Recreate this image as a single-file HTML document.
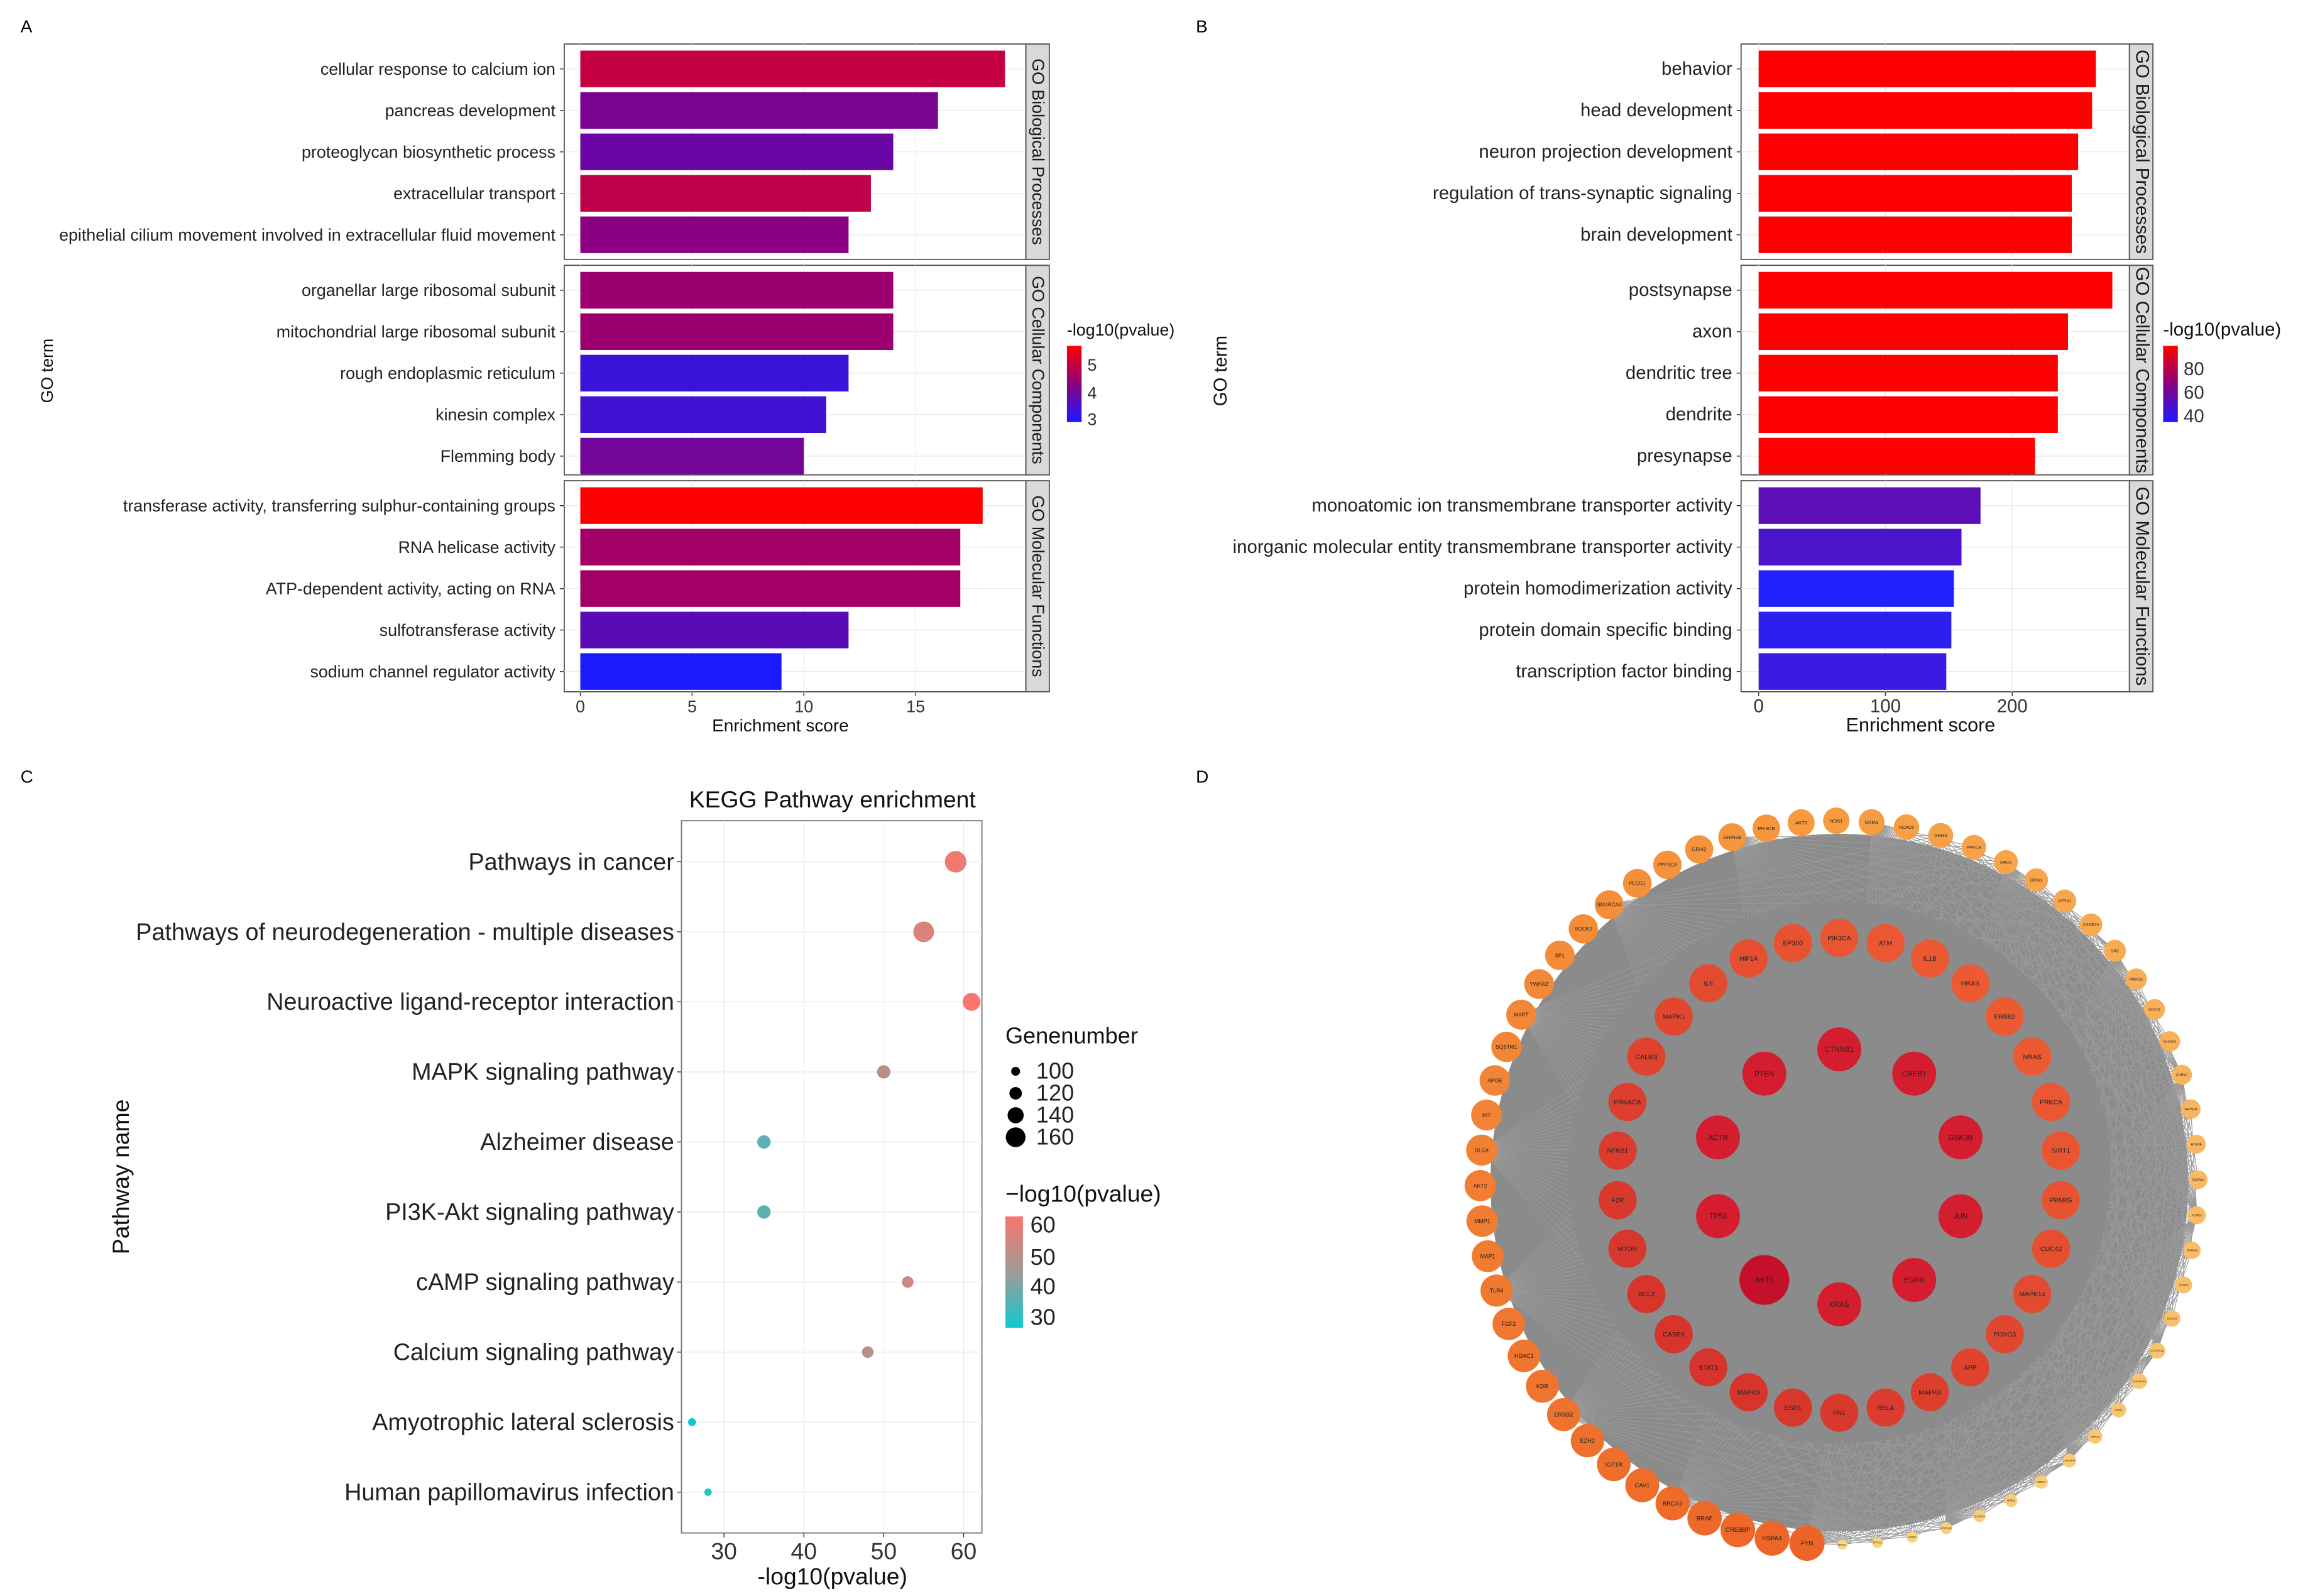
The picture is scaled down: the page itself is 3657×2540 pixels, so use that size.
<!DOCTYPE html>
<html><head><meta charset="utf-8"><style>
html,body{margin:0;padding:0;background:#fff;}
svg{display:block;font-family:"Liberation Sans",sans-serif;}
</style></head><body>
<svg id="fig" width="3657" height="2540" viewBox="0 0 1568 1089" xmlns="http://www.w3.org/2000/svg">
<defs>
<linearGradient id="gA" x1="0" y1="0" x2="0" y2="1"><stop offset="0" stop-color="#ff0000"/><stop offset="0.5" stop-color="#8a0080"/><stop offset="1" stop-color="#1a1aff"/></linearGradient>
<linearGradient id="gC" x1="0" y1="0" x2="0" y2="1"><stop offset="0" stop-color="#f8766d"/><stop offset="0.5" stop-color="#a09a98"/><stop offset="1" stop-color="#10c8d0"/></linearGradient>
</defs>
<g id="root"></g>
</svg>
<script>
// Panel A data
const aTerms=[["cellular response to calcium ion","pancreas development","proteoglycan biosynthetic process","extracellular transport","epithelial cilium movement involved in extracellular fluid movement"],["organellar large ribosomal subunit","mitochondrial large ribosomal subunit","rough endoplasmic reticulum","kinesin complex","Flemming body"],["transferase activity, transferring sulphur-containing groups","RNA helicase activity","ATP-dependent activity, acting on RNA","sulfotransferase activity","sodium channel regulator activity"]];
const aScores=[[19,16,14,13,12],[14,14,12,11,10],[18,17,17,12,9]];
const aPval=[[5.0,4.1,3.9,4.9,4.3],[4.5,4.5,3.3,3.4,4.0],[5.7,4.6,4.6,3.7,2.9]];
const aTicks=[0,5,10,15];
// Panel B data
const bTerms=[["behavior","head development","neuron projection development","regulation of trans-synaptic signaling","brain development"],["postsynapse","axon","dendritic tree","dendrite","presynapse"],["monoatomic ion transmembrane transporter activity","inorganic molecular entity transmembrane transporter activity","protein homodimerization activity","protein domain specific binding","transcription factor binding"]];
const bScores=[[266,263,252,247,247],[279,244,236,236,218],[175,160,154,152,148]];
const bPval=[[90,90,89,89,89],[92,88,88,88,87],[50,45,33,36,40]];
const bTicks=[0,100,200];
const facets=["GO Biological Processes","GO Cellular Components","GO Molecular Functions"];
// Panel C data
const cPaths=["Pathways in cancer","Pathways of neurodegeneration - multiple diseases","Neuroactive ligand-receptor interaction","MAPK signaling pathway","Alzheimer disease","PI3K-Akt signaling pathway","cAMP signaling pathway","Calcium signaling pathway","Amyotrophic lateral sclerosis","Human papillomavirus infection"];
const cLogP=[59,55,61,50,35,35,53,48,26,28];
const cGenes=[170,165,150,125,125,125,115,115,95,92];
const cTicks=[30,40,50,60];
// Panel D data
const dInner=["CTNNB1","CREB1","GSK3B","JUN","EGFR","KRAS","AKT1","TP53","ACTB","PTEN"];
const dMiddle=["PIK3CA","ATM","IL1B","HRAS","ERBB2","NRAS","PRKCA","SIRT1","PPARG","CDC42","MAPK14","FOXO3","APP","MAPK8","RELA","FN1","ESR1","MAPK3","STAT3","CASP3","BCL2","MTOR","F2R","NFKB1","PRKACA","CALM3","MAPK1","IL6","HIF1A","EP300"];
const dOuter=["FYN","HSPA4","CREBBP","BRAF","BRCA1","CAV1","IGF1R","EZH2","ERBB2","KDR","HDAC1","FGF2","TLR4","MAP1","MMP1","AKT2","DLG4","KIT","APOE","SQSTM1","MAPT","YWHAZ","SP1","ROCK2","SMARCA4","PLCG1","PPP2CA","GRIA2","GRIN2B","PIK3CB","AKT3","NOS1","GRIA1","HDAC6","GRM5","PRKCB","DRD2","GRIN1","NTRK2","CAMK2A","SRC","PRKCG","ADCY1","SLC6A4","CHRM1","GRIN2A","HTR2A","GABRA1","ADRB2","OPRM1","SCN5A","KCNH2","CACNA1C","ADORA2A","DRD1","HTR1A","CHRNA7","P2RX7","GRM1","SLC6A3","ADRA2A","CNR1","TRPV1","MAOA"];

const NS="http://www.w3.org/2000/svg";
const root=document.getElementById('root');
function el(tag,attrs,parent,txt){const e=document.createElementNS(NS,tag);for(const k in attrs)e.setAttribute(k,attrs[k]);if(txt!==undefined)e.textContent=txt;(parent||root).appendChild(e);return e;}
function lerp(a,b,t){return a+(b-a)*t;}
function mix(c1,c2,t){return 'rgb('+[0,1,2].map(i=>Math.round(lerp(c1[i],c2[i],t))).join(',')+')';}
function colA(v,lo,hi){let t=(v-lo)/(hi-lo);t=Math.max(0,Math.min(1,t));const blue=[26,26,255],purp=[138,0,128],red=[255,0,0];return t<0.5?mix(blue,purp,t*2):mix(purp,red,(t-0.5)*2);}

[["A",14,22],["B",816,22],["C",14,534],["D",816,534]].forEach(p=>{const t=el('text',{x:p[1],y:p[2],'font-size':12,fill:'#000'},root,p[0]);});

function barPanel(o){
  const g=el('g',{});
  const xs=v=>o.x0+v*o.k;
  const tops=[30,181,328],hts=[147,143,144];
  for(let f=0;f<3;f++){
    const y0=tops[f],h=hts[f];
    const pr=el('rect',{x:o.px,y:y0,width:o.pw,height:h,fill:'#fff',stroke:'#555','stroke-width':0.8},g);
    
    o.ticks.forEach(t=>{el('line',{x1:xs(t),x2:xs(t),y1:y0,y2:y0+h,stroke:'#ebebeb','stroke-width':0.6},g);});
    for(let i=0;i<5;i++){
      const yc=y0+17+i*28.3;
      el('line',{x1:o.px,x2:o.px+o.pw,y1:yc,y2:yc,stroke:'#ebebeb','stroke-width':0.6},g);
      const b=el('rect',{x:xs(0),y:yc-12.5,width:xs(o.scores[f][i])-xs(0),height:25,fill:o.col(o.pval[f][i])},g);
      
      
      el('line',{x1:o.px-3,x2:o.px,y1:yc,y2:yc,stroke:'#333','stroke-width':0.6},g);
      const lb=el('text',{x:o.px-6,y:yc+4,'font-size':o.fs,'text-anchor':'end',fill:'#222'},g,o.terms[f][i]);
      
    }
    const st=el('rect',{x:o.px+o.pw,y:y0,width:16,height:h,fill:'#d9d9d9',stroke:'#555','stroke-width':0.8},g);
    
    const sx=o.px+o.pw+4.5,sy=y0+h/2;
    const stt=el('text',{x:sx,y:sy,'font-size':o.fs,'text-anchor':'middle',fill:'#1a1a1a',transform:'rotate(90 '+sx+' '+sy+')'},g,facets[f]);
    
  }
  o.ticks.forEach(t=>{el('line',{x1:xs(t),x2:xs(t),y1:472,y2:475,stroke:'#333','stroke-width':0.6},g);
    const tl=el('text',{x:xs(t),y:486,'font-size':o.fs,'text-anchor':'middle',fill:'#333'},g,String(t));});
  const xt=el('text',{x:o.px+o.pw/2-10,y:499,'font-size':o.fs+0.5,'text-anchor':'middle',fill:'#111'},g,'Enrichment score');
  const yx=o.ytx,yy=253;
  const yt=el('text',{x:yx,y:yy,'font-size':o.fs,'text-anchor':'middle',fill:'#111',transform:'rotate(-90 '+yx+' '+yy+')'},g,'GO term');
  const lg=el('g',{},g);
  el('text',{x:o.lx,y:229,'font-size':o.fs,fill:'#111'},lg,'-log10(pvalue)');
  el('rect',{x:o.lx,y:236,width:10,height:52,fill:o.grad},lg);
  o.leg.forEach(l=>{el('text',{x:o.lx+14,y:l[1]+4,'font-size':o.fs,fill:'#333'},lg,l[0]);});
}
barPanel({name:'panel-a-go-bar-chart',terms:aTerms,scores:aScores,pval:aPval,ticks:aTicks,x0:396,k:15.25,px:385,pw:315,col:v=>colA(v,2.9,5.7),ytx:36,lx:728,grad:'url(#gA)',fs:11.5,leg:[["5",249],["4",268],["3",286]]});
function colB(v){let t=(v-33)/(92-33);t=Math.max(0,Math.min(1,t));const blue=[34,34,255],purp=[138,0,128],red=[255,0,0];return t<0.5?mix(blue,purp,t*2):mix(purp,red,Math.min(1,(t-0.5)*2.6));}
barPanel({name:'panel-b-go-bar-chart',terms:bTerms,scores:bScores,pval:bPval,ticks:bTicks,x0:1200,k:0.865,px:1188,pw:265,col:colB,ytx:837,lx:1476,grad:'url(#gA)',fs:12.6,leg:[["80",252],["60",268],["40",284]]});

// Panel C
(function(){
  const g=el('g',{});
  const xs=v=>494+(v-30)*5.45, ys=i=>588+i*47.8, rs=n=>2.4+(n-90)*0.062;
  const cc=v=>{let t=(v-26)/(61-26);t=Math.max(0,Math.min(1,t));return t<0.5?mix([16,200,208],[160,154,152],t*2):mix([160,154,152],[248,118,109],(t-0.5)*2);};
  const t=el('text',{x:568,y:551,'font-size':16,'text-anchor':'middle',fill:'#111'},g,'KEGG Pathway enrichment');
  el('rect',{x:465,y:560,width:205,height:486,fill:'#fff',stroke:'#777','stroke-width':0.8},g);
  cTicks.forEach(v=>{el('line',{x1:xs(v),x2:xs(v),y1:560,y2:1046,stroke:'#ebebeb','stroke-width':0.6},g);
    el('line',{x1:xs(v),x2:xs(v),y1:1046,y2:1049,stroke:'#333','stroke-width':0.6},g);
    const tl=el('text',{x:xs(v),y:1064,'font-size':16,'text-anchor':'middle',fill:'#333'},g,String(v));});
  cPaths.forEach((p,i)=>{
    el('line',{x1:465,x2:670,y1:ys(i),y2:ys(i),stroke:'#ebebeb','stroke-width':0.6},g);
    el('line',{x1:462,x2:465,y1:ys(i),y2:ys(i),stroke:'#333','stroke-width':0.6},g);
    const lb=el('text',{x:460,y:ys(i)+5.5,'font-size':16.2,'text-anchor':'end',fill:'#222'},g,p);
    const c=el('circle',{cx:xs(cLogP[i]),cy:ys(i),r:rs(cGenes[i]),fill:cc(cLogP[i])},g);
    
  });
  const xt=el('text',{x:568,y:1081,'font-size':16,'text-anchor':'middle',fill:'#111'},g,'-log10(pvalue)');
  const yt=el('text',{x:88,y:803,'font-size':16,'text-anchor':'middle',fill:'#111',transform:'rotate(-90 88 803)'},g,'Pathway name');
  const sl=el('g',{},g);
  el('text',{x:686,y:712,'font-size':15.5,fill:'#111'},sl,'Genenumber');
  [[100,731],[120,746],[140,761],[160,776]].forEach(l=>{el('circle',{cx:693,cy:l[1],r:rs(l[0]),fill:'#000'},sl);el('text',{x:707,y:l[1]+5,'font-size':15.5,fill:'#222'},sl,String(l[0]));});
  const cl=el('g',{},g);
  el('text',{x:686,y:820,'font-size':16,fill:'#111'},cl,'\u2212log10(pvalue)');
  el('rect',{x:686,y:830,width:12,height:76,fill:'url(#gC)'},cl);
  [["60",836],["50",858],["40",878],["30",899]].forEach(l=>el('text',{x:703,y:l[1]+5,'font-size':15.5,fill:'#222'},cl,l[0]));
})();

// Panel D
(function(){
  const g=el('g',{});
  const cx=1255,cy=805;
  const outer=[],nO=dOuter.length;
  const a0=Math.PI/2+0.09;
  for(let i=0;i<nO;i++){const a=a0+i*2*Math.PI/nO;outer.push([cx+245*Math.cos(a),cy+2+247*Math.sin(a)]);}
  const bg=el('circle',{cx:cx,cy:cy+2,r:238,fill:'#8b8b8b'},g);
  const eg=el('g',{stroke:'#9a9a9a','stroke-width':0.5,fill:'none'},g);
  for(let i=34;i<nO;i++){for(let j=0;j<nO;j+=4){if(Math.abs(i-j)<3)continue;const p=outer[i],q=outer[j];el('line',{x1:p[0],y1:p[1],x2:q[0],y2:q[1]},eg);}}
  const fg=el('circle',{cx:cx,cy:cy-5,r:185,fill:'#8b8b8b'},g);
  function node(x,y,r,fill,label,fs,nm){const n=el('g',{},g);
    el('circle',{cx:x,cy:y,r:r,fill:fill},n);el('text',{x:x,y:y+fs*0.35,'font-size':fs,'text-anchor':'middle',fill:'#222'},n,label);}
  for(let i=0;i<nO;i++){const t=i/(nO-1);const r=t<0.45?lerp(12,9.5,t/0.45):lerp(9.5,3.5,(t-0.45)/0.55);
    const col=t<0.45?mix([236,100,40],[246,150,60],t/0.45):mix([246,150,60],[250,215,130],(t-0.45)/0.55);
    node(outer[i][0],outer[i][1],r,col,dOuter[i],Math.max(2,r*0.35),dOuter[i].toLowerCase());}
  const nM=dMiddle.length;
  for(let i=0;i<nM;i++){const a=-Math.PI/2+i*2*Math.PI/nM;
    const t=(Math.cos(a-2.3)+1)/2;
    node(cx+152*Math.cos(a),cy-3+162*Math.sin(a),13,mix([236,90,50],[214,52,44],t),dMiddle[i],4.5,dMiddle[i].toLowerCase());}
  const nI=dInner.length;
  for(let i=0;i<nI;i++){const a=-Math.PI/2+i*2*Math.PI/nI;const big=dInner[i]==='AKT1';
    node(cx+87*Math.cos(a),cy-2+87*Math.sin(a),big?17:15,big?'#c4102a':'#d41e30',dInner[i],5,dInner[i].toLowerCase());}
})();
</script>
</body></html>
